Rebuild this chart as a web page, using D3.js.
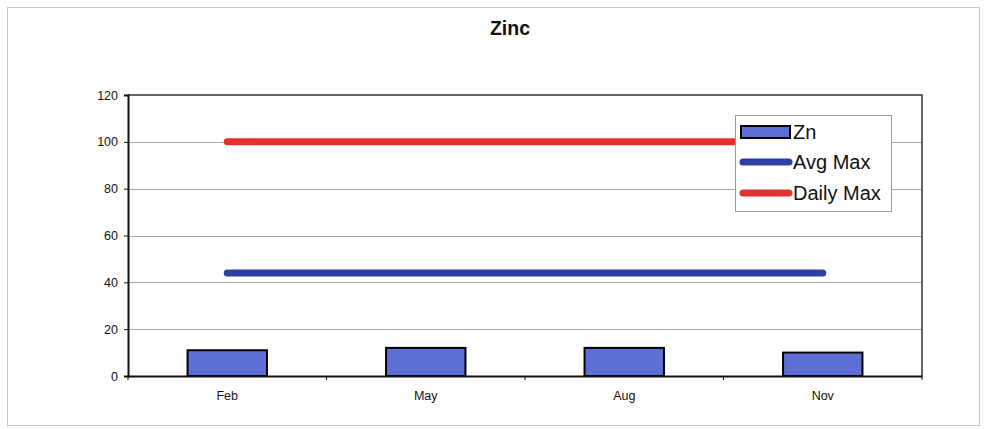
<!DOCTYPE html>
<html><head><meta charset="utf-8">
<script src="https://cdn.jsdelivr.net/npm/d3@7"></script>
<style>body{margin:0;background:#fff;} svg{display:block;font-family:Arial,"Liberation Sans",sans-serif;}</style>
</head><body>
<svg id="c" width="984" height="429"></svg>
<script>
const categories = ["Feb", "May", "Aug", "Nov"];
const znValues = [11, 12, 12, 10];
const avgMax = [44, 44, 44, 44];
const dailyMax = [100, 100, 100, 100];
const yTicks = [0, 20, 40, 60, 80, 100, 120];
const title = "Zinc";
const legendLabels = ["Zn", "Avg Max", "Daily Max"];

const svg = d3.select("#c");
const M = {left: 128, right: 922, top: 95, bottom: 376};

// outer chart frame
svg.append("rect").attr("x", 7.5).attr("y", 7.5).attr("width", 972).attr("height", 418)
  .attr("fill", "#fff").attr("stroke", "#c8c8c8").attr("stroke-width", 1);

svg.append("text").attr("x", 510).attr("y", 35).attr("text-anchor", "middle")
  .attr("font-size", 19.5).attr("font-weight", "bold").attr("fill", "#111").text(title);

const x = d3.scaleBand().domain(categories).range([M.left, M.right]).paddingInner(0).paddingOuter(0);
const y = d3.scaleLinear().domain([0, 120]).range([M.bottom, M.top]);

// gridlines
svg.append("g").selectAll("line").data(yTicks.filter(d => d > 0 && d < 120)).join("line")
  .attr("x1", M.left).attr("x2", M.right)
  .attr("y1", d => Math.round(y(d)) + 0.5).attr("y2", d => Math.round(y(d)) + 0.5)
  .attr("stroke", "#a8a8a8").attr("stroke-width", 1);

// plot frame top/right
svg.append("path").attr("d", `M${M.left},${M.top}H${M.right}V${M.bottom}`)
  .attr("fill", "none").attr("stroke", "#333").attr("stroke-width", 1.5);

// bars
const bw = x.bandwidth() * 0.4;
svg.append("g").selectAll("rect").data(categories).join("rect")
  .attr("x", (d) => x(d) + x.bandwidth() / 2 - bw / 2)
  .attr("y", (d, i) => y(znValues[i]))
  .attr("width", bw)
  .attr("height", (d, i) => y(0) - y(znValues[i]))
  .attr("fill", "#5b6fd6").attr("stroke", "#000").attr("stroke-width", 2);

const cx = d => x(d) + x.bandwidth() / 2;
const line = vals => d3.line().x((d) => cx(d)).y((d, i) => y(vals[i]))(categories);

svg.append("path").attr("d", line(avgMax)).attr("fill", "none")
  .attr("stroke", "#2d3fa6").attr("stroke-width", 7).attr("stroke-linecap", "round");
svg.append("path").attr("d", line(dailyMax)).attr("fill", "none")
  .attr("stroke", "#e2312f").attr("stroke-width", 7).attr("stroke-linecap", "round");

// axes
const yAxis = d3.axisLeft(y).tickValues(yTicks).tickSize(4).tickPadding(6);
const gy = svg.append("g").attr("transform", `translate(${M.left},0)`).call(yAxis);
gy.select(".domain").attr("stroke", "#111").attr("stroke-width", 2);
gy.selectAll(".tick line").attr("stroke", "#111");
gy.selectAll("text").attr("font-size", 12.5).attr("fill", "#111").attr("font-family", "Arial, Liberation Sans, sans-serif");

const xAxis = d3.axisBottom(x).tickSize(0).tickPadding(15);
const gx = svg.append("g").attr("transform", `translate(0,${M.bottom})`).call(xAxis);
gx.select(".domain").attr("stroke", "#111").attr("stroke-width", 2);
gx.selectAll("text").attr("font-size", 12.5).attr("fill", "#111").attr("font-family", "Arial, Liberation Sans, sans-serif");
// tick marks at category boundaries
svg.append("g").selectAll("line").data(categories.concat(["end"])).join("line")
  .attr("x1", (d, i) => i < categories.length ? x(d) : M.right)
  .attr("x2", (d, i) => i < categories.length ? x(d) : M.right)
  .attr("y1", M.bottom).attr("y2", M.bottom + 4).attr("stroke", "#111");

// legend
const lg = svg.append("g");
lg.append("rect").attr("x", 735.5).attr("y", 115.5).attr("width", 156).attr("height", 96)
  .attr("fill", "#fff").attr("stroke", "#999").attr("stroke-width", 1);
const ly = [132, 162, 193];
lg.append("rect").attr("x", 741).attr("y", ly[0] - 6).attr("width", 49).attr("height", 12)
  .attr("fill", "#5b6fd6").attr("stroke", "#000").attr("stroke-width", 2);
lg.append("line").attr("x1", 743).attr("x2", 789).attr("y1", ly[1]).attr("y2", ly[1])
  .attr("stroke", "#2d3fa6").attr("stroke-width", 7).attr("stroke-linecap", "round");
lg.append("line").attr("x1", 743).attr("x2", 789).attr("y1", ly[2]).attr("y2", ly[2])
  .attr("stroke", "#e2312f").attr("stroke-width", 7).attr("stroke-linecap", "round");
lg.selectAll("text").data(legendLabels).join("text")
  .attr("x", 793).attr("y", (d, i) => ly[i]).attr("dy", "0.35em")
  .attr("font-size", 20).attr("fill", "#111").text(d => d);
</script>
</body></html>
